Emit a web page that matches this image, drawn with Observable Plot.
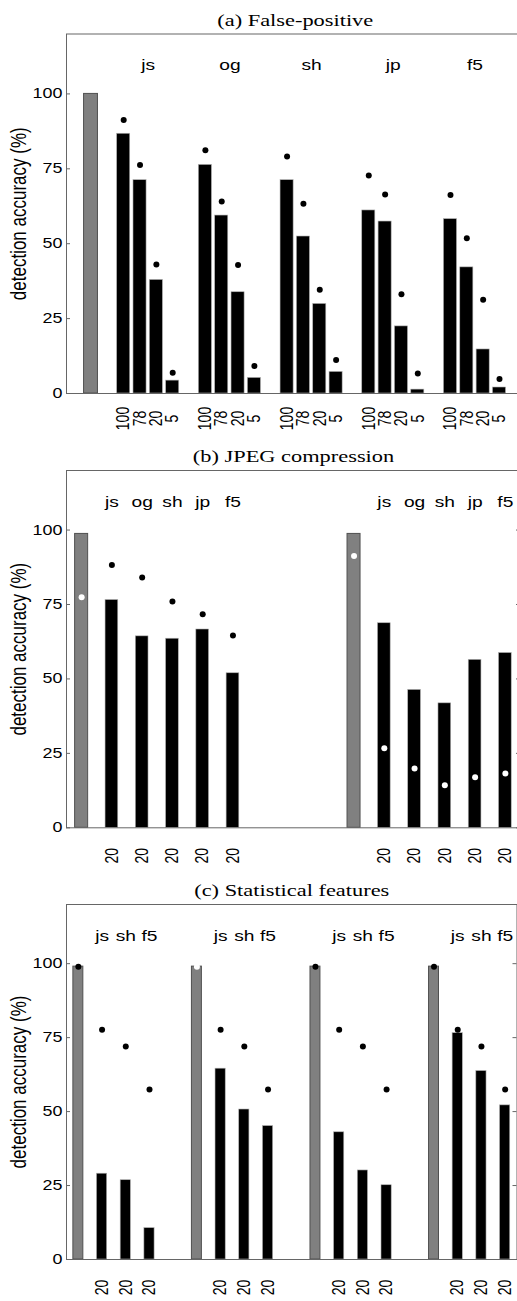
<!DOCTYPE html>
<html><head><meta charset="utf-8">
<script src="https://cdn.jsdelivr.net/npm/d3@7"></script>
<script src="https://cdn.jsdelivr.net/npm/@observablehq/plot@0.6"></script>
<style>
html,body{margin:0;padding:0;background:#fff;}
body{width:517px;height:1301px;overflow:hidden;position:relative;}
.panel{position:absolute;left:0;}
</style></head><body>
<div id="pa" class="panel" style="top:0px"></div>
<div id="pb" class="panel" style="top:440px"></div>
<div id="pc" class="panel" style="top:878px"></div>
<script>
// ---------------- data ----------------
const yTickValues = [0, 25, 50, 75, 100];
const yLabel = "detection accuracy (%)";

// (a) False-positive
const fpTitle = "(a) False-positive";
const fpMethods = ["js", "og", "sh", "jp", "f5"];
const fpRates = ["100", "78", "20", "5"];
const fpBaseline = 100;
const fpBars = [
  [86.7, 71.2, 37.9, 4.3],
  [76.3, 59.4, 33.8, 5.2],
  [71.2, 52.4, 29.9, 7.2],
  [61.1, 57.4, 22.4, 1.3],
  [58.2, 42.1, 14.7, 2.0]
];
const fpDots = [
  [91.3, 76.3, 43.1, 6.9],
  [81.2, 64.1, 42.9, 9.2],
  [79.1, 63.3, 34.6, 11.2],
  [72.8, 66.4, 33.1, 6.7],
  [66.3, 51.8, 31.3, 4.8]
];

// (b) JPEG compression
const jpegTitle = "(b) JPEG compression";
const jpegMethods = ["js", "og", "sh", "jp", "f5"];
const jpegRate = "20";
const jpegBaseline = [98.7, 98.7];
const jpegBaselineDots = [77.4, 91.3];
const jpegBars = [
  [76.5, 64.3, 63.5, 66.6, 51.9],
  [68.7, 46.3, 41.8, 56.4, 58.7]
];
const jpegDots = [
  [88.3, 84.1, 76.0, 71.7, 64.6],
  [26.7, 19.9, 14.3, 17.0, 18.2]
];

// (c) Statistical features
const statTitle = "(c) Statistical features";
const statMethods = ["js", "sh", "f5"];
const statRate = "20";
const statBaseline = [99, 99, 99, 99];
const statBaselineDots = [99, 99, 99, 99];
const statBars = [
  [29.0, 26.8, 10.6],
  [64.5, 50.7, 45.1],
  [43.0, 30.1, 25.1],
  [76.5, 63.7, 52.1]
];
const statDots = [
  [77.7, 72.0, 57.5],
  [77.7, 72.0, 57.5],
  [77.7, 72.0, 57.5],
  [77.7, 72.0, 57.5]
];

// ---------------- build rows ----------------
const A = {base: [], bars: [], blackDots: [], whiteDots: [], labels: [], ticks: []};
A.base.push({slot: 0, value: fpBaseline});
fpMethods.forEach((m, g) => {
  fpRates.forEach((r, k) => {
    const slot = 2 + 5 * g + k;
    A.bars.push({slot, value: fpBars[g][k]});
    A.blackDots.push({slot, value: fpDots[g][k]});
    A.ticks.push({slot, text: r});
  });
  A.labels.push({slot: 2 + 5 * g + (fpRates.length - 1) / 2, text: m});
});

const B = {base: [], bars: [], blackDots: [], whiteDots: [], labels: [], ticks: []};
jpegBaseline.forEach((v, h) => {
  const s0 = 9 * h;
  B.base.push({slot: s0, value: v});
  B.whiteDots.push({slot: s0, value: jpegBaselineDots[h]});
  jpegMethods.forEach((m, i) => {
    const slot = s0 + 1 + i;
    B.bars.push({slot, value: jpegBars[h][i]});
    (h === 0 ? B.blackDots : B.whiteDots).push({slot, value: jpegDots[h][i]});
    B.labels.push({slot, text: m});
    B.ticks.push({slot, text: jpegRate});
  });
});

const C = {base: [], bars: [], blackDots: [], whiteDots: [], labels: [], ticks: []};
statBaseline.forEach((v, h) => {
  const s0 = 5 * h;
  C.base.push({slot: s0, value: v});
  (h === 1 ? C.whiteDots : C.blackDots).push({slot: s0, value: statBaselineDots[h]});
  statMethods.forEach((m, i) => {
    const slot = s0 + 1 + i;
    C.bars.push({slot, value: statBars[h][i]});
    C.blackDots.push({slot, value: statDots[h][i]});
    C.labels.push({slot, text: m});
    C.ticks.push({slot, text: statRate});
  });
});

// ---------------- drawing ----------------
const STRETCH = 1.28;
const SANS = "Liberation Sans, Arial, Helvetica, sans-serif";
const SERIF = "Liberation Serif, Times New Roman, serif";

function panel(el, title, P, o) {
  const fw = o.width - o.marginLeft - o.marginRight;
  const bw = o.barWidth, gw = o.baseWidth;
  const chart = Plot.plot({
    width: o.width, height: o.height,
    marginLeft: o.marginLeft, marginRight: o.marginRight,
    marginTop: o.marginTop, marginBottom: o.marginBottom,
    style: {background: "none", maxWidth: "none", overflow: "visible", fontFamily: SANS, fontSize: "14px", color: "#000"},
    x: {type: "linear", domain: o.xDomain, axis: null},
    y: {domain: [0, 120], ticks: yTickValues, tickSize: 0, tickPadding: 4, label: null},
    marks: [
      Plot.rectY(P.base, {x1: d => d.slot - gw / 2, x2: d => d.slot + gw / 2, y: "value", fill: "#808080", stroke: "#505050", strokeWidth: 1}),
      Plot.rectY(P.bars, {x1: d => d.slot - bw / 2, x2: d => d.slot + bw / 2, y: "value", fill: "#000", stroke: "#b0b0b0", strokeWidth: 0.6}),
      Plot.dot(P.blackDots, {x: "slot", y: "value", r: 3, fill: "#000", stroke: "none"}),
      Plot.dot(P.whiteDots, {x: "slot", y: "value", r: 3, fill: "#fff", stroke: "none"}),
      Plot.text(P.labels, {x: "slot", text: "text", frameAnchor: "top", lineAnchor: "middle", dy: 31.5, fontSize: 15}),
      Plot.text(P.ticks, {x: "slot", text: "text", frameAnchor: "bottom", lineAnchor: "middle", textAnchor: "middle", dy: o.tickDy, rotate: -90, fontSize: 14}),
      Plot.text([title], {text: d => d, frameAnchor: "top", lineAnchor: "middle", dy: -14, fontFamily: SERIF, fontSize: 17.5}),
      Plot.text([yLabel], {text: d => d, frameAnchor: "left", lineAnchor: "middle", textAnchor: "middle", dx: -47, rotate: -90, fontSize: 17}),
      Plot.tickY(yTickValues, {y: d => d, insetRight: fw - 4, stroke: "#666"}),
      Plot.tickY(yTickValues, {y: d => d, insetLeft: fw - 4, stroke: "#666"}),
      Plot.frame({stroke: "#666"})
    ]
  });
  // The reference figure is stretched horizontally: widen glyphs accordingly
  chart.querySelectorAll("text").forEach(t => {
    let tr = t.getAttribute("transform");
    if (!tr) {
      const x = t.getAttribute("x") || 0, y = t.getAttribute("y") || 0;
      t.removeAttribute("x"); t.removeAttribute("y");
      tr = `translate(${x},${y})`;
    }
    t.setAttribute("transform", tr + (tr.includes("rotate") ? ` scale(1,${STRETCH})` : ` scale(${STRETCH},1)`));
  });
  document.getElementById(el).appendChild(chart);
}

panel("pa", fpTitle, A, {width: 524, height: 440, marginLeft: 66, marginRight: 0.5, marginTop: 33.5, marginBottom: 47,
  xDomain: [-1.5, 26.5], barWidth: 0.8, baseWidth: 0.85, tickDy: 25});
panel("pb", jpegTitle, B, {width: 520, height: 438, marginLeft: 66, marginRight: 0, marginTop: 30, marginBottom: 50.7,
  xDomain: [-0.5, 14.5], barWidth: 0.42, baseWidth: 0.43, tickDy: 28});
panel("pc", statTitle, C, {width: 517, height: 423, marginLeft: 66, marginRight: 0.5, marginTop: 26, marginBottom: 42,
  xDomain: [-0.5, 18.5], barWidth: 0.43, baseWidth: 0.42, tickDy: 28});
</script>
</body></html>
